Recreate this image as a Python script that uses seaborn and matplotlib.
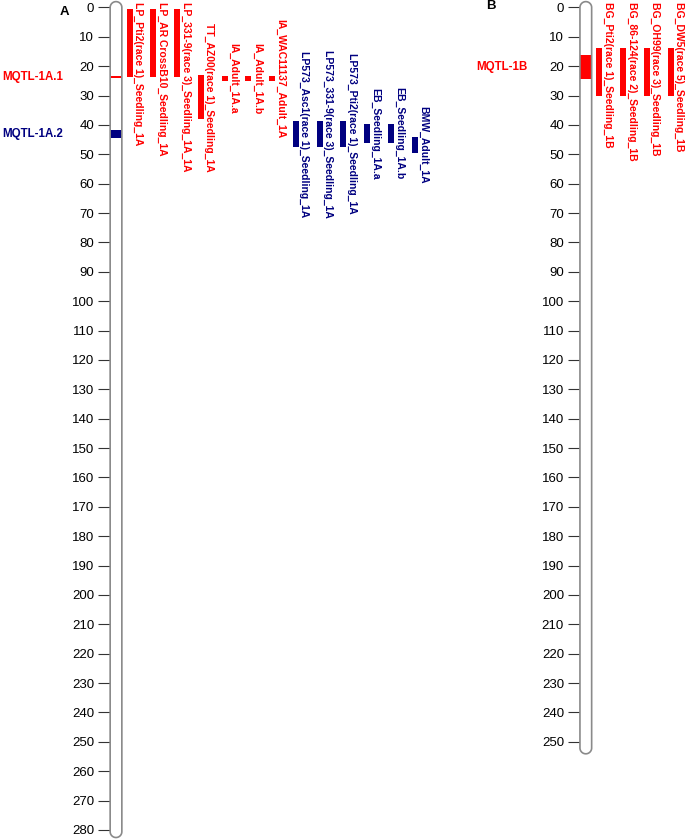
import matplotlib
matplotlib.use("Agg")
import matplotlib.pyplot as plt
import matplotlib.transforms as mtransforms
from matplotlib.patches import Polygon
import numpy as np
import seaborn as sns

sns.set_theme(style="white")
plt.rcParams['font.family'] = ['Liberation Sans', 'DejaVu Sans']
plt.rcParams['text.color'] = 'black'

# ---- chromosome 1A ----
len_1a = 280.6
mqtl_1a = ["MQTL-1A.1", "MQTL-1A.2"]
mqtl_1a_start = [23.4, 41.7]
mqtl_1a_end = [24.1, 44.5]

qtl_1a = ["LP_Pti2(race 1)_Seedling_1A",
          "LP_AR CrossB10_Seedling_1A",
          "LP_331-9(race 3)_Seedling_1A_1A",
          "TT_AZ00(race 1)_Seedling_1A",
          "IA_Adult_1A.a",
          "IA_Adult_1A.b",
          "IA_WAC11137_Adult_1A",
          "LP573_Asc1(race 1)_Seedling_1A",
          "LP573_331-9(race 3)_Seedling_1A",
          "LP573_Pti2(race 1)_Seedling_1A",
          "EB_Seedling_1A.a",
          "EB_Seedling_1A.b",
          "BMW_Adult_1A"]
qtl_1a_start = [0.6, 0.6, 0.6, 23.0, 23.3, 23.3, 23.3, 38.5, 38.5, 38.5, 39.7, 39.7, 44.0]
qtl_1a_end = [23.8, 23.8, 23.8, 38.1, 24.9, 24.9, 24.9, 47.4, 47.4, 47.4, 46.0, 46.0, 49.6]
qtl_1a_mqtl = ["MQTL-1A.1"] * 7 + ["MQTL-1A.2"] * 6

# ---- chromosome 1B ----
len_1b = 252.1
mqtl_1b = ["MQTL-1B"]
mqtl_1b_start = [16.2]
mqtl_1b_end = [24.3]

qtl_1b = ["BG_Pti2(race 1)_Seedling_1B",
          "BG_86-124(race 2)_Seedling_1B",
          "BG_OH99(race 3)_Seedling_1B",
          "BG_DW5(race 5)_Seedling_1B"]
qtl_1b_start = [13.7, 13.7, 13.7, 13.7]
qtl_1b_end = [30.0, 30.0, 30.0, 30.0]
qtl_1b_mqtl = ["MQTL-1B"] * 4

mqtl_colors = {"MQTL-1A.1": "#FF0000", "MQTL-1A.2": "#000080", "MQTL-1B": "#FF0000"}

W, H = 685, 839
fig = plt.figure(figsize=(W / 100, H / 100), dpi=100)

col = 23.75          # px per label column
px_per_cM = 2.937
hw = 5.85 / col      # chromosome half width (x units)
cap = 5.85 / px_per_cM
ylim = (283.1, -2.55)


def draw_chrom(ax, length, ticks, mq, mq_s, mq_e, names, starts, ends, groups):
    ax.set_ylim(*ylim)
    # chromosome body with rounded ends
    th = np.linspace(0, np.pi, 40)
    top = np.column_stack([hw * np.cos(th), -cap * np.sin(th)])
    bot = np.column_stack([-hw * np.cos(th), length + cap * np.sin(th)])
    outline = np.vstack([top, bot])
    ax.add_patch(Polygon(outline, closed=True, facecolor="white", edgecolor="none", zorder=1))
    ax.add_patch(Polygon(outline, closed=True, facecolor="none", edgecolor="#8a8a8a",
                         linewidth=1.2, zorder=3))
    # meta-QTL bands
    for n, s, e in zip(mq, mq_s, mq_e):
        c = mqtl_colors[n]
        ax.bar(0, e - s, bottom=s, width=2 * hw, color=c, linewidth=0, zorder=2)
        ax.annotate(n, xy=(-hw, (s + e) / 2), xytext=(-56, 0), textcoords="offset points",
                    ha="center", va="center", color=c, fontsize=8.3, fontweight="bold")
    # QTL bars + labels
    xs = np.arange(len(names)) + 0.57
    cols = [mqtl_colors[g] for g in groups]
    ax.bar(xs, np.array(ends) - np.array(starts), bottom=starts, width=0.25,
           color=cols, linewidth=0, zorder=2)
    tr = mtransforms.offset_copy(ax.transData, fig=fig, x=0.5, y=0, units="dots")
    texts = []
    for x, n, s, e, c in zip(xs, names, starts, ends, cols):
        t = ax.text(x + 0.125, (s + e) / 2, n, rotation=-90, ha="left", va="center",
                    color=c, fontsize=7.5, fontweight="bold", transform=tr)
        texts.append(t)
    # ticks on chromosome left edge
    ax.spines["left"].set_position(("data", -hw))
    for sp in ax.spines.values():
        sp.set_visible(False)
    ax.set_yticks(ticks)
    ax.set_xticks([])
    ax.tick_params(axis="y", left=True, direction="out", length=8.6, width=0.8,
                   color="#333333", pad=2.9, labelsize=9.5, labelcolor="black")
    ax.set_facecolor("none")
    return texts


axA = fig.add_axes([0, 0, 460 / W, 1])
axA.set_xlim(-116 / col, (460 - 116) / col)
tA = draw_chrom(axA, len_1a, np.arange(0, 290, 10), mqtl_1a, mqtl_1a_start, mqtl_1a_end,
                qtl_1a, qtl_1a_start, qtl_1a_end, qtl_1a_mqtl)

axB = fig.add_axes([460 / W, 0, 225 / W, 1])
axB.set_xlim((460 - 585.8) / col, (685 - 585.8) / col)
tB = draw_chrom(axB, len_1b, np.arange(0, 260, 10), mqtl_1b, mqtl_1b_start, mqtl_1b_end,
                qtl_1b, qtl_1b_start, qtl_1b_end, qtl_1b_mqtl)

# push labels down if they run above the chromosome top
fig.canvas.draw()
r = fig.canvas.get_renderer()
for t in tA + tB:
    half = t.get_window_extent(r).height / 2 / px_per_cM
    if t.get_position()[1] - half < -1.8:
        t.set_y(-1.8)
        t.set_va("top")

fig.text(64 / W, 1 - 11.7 / H, "A", ha="center", va="center", fontsize=9.5,
         fontweight="bold", color="black")
fig.text(491 / W, 1 - 6 / H, "B", ha="center", va="center", fontsize=9.5,
         fontweight="bold", color="black")

fig.savefig("out.png", dpi=100, facecolor="white")
